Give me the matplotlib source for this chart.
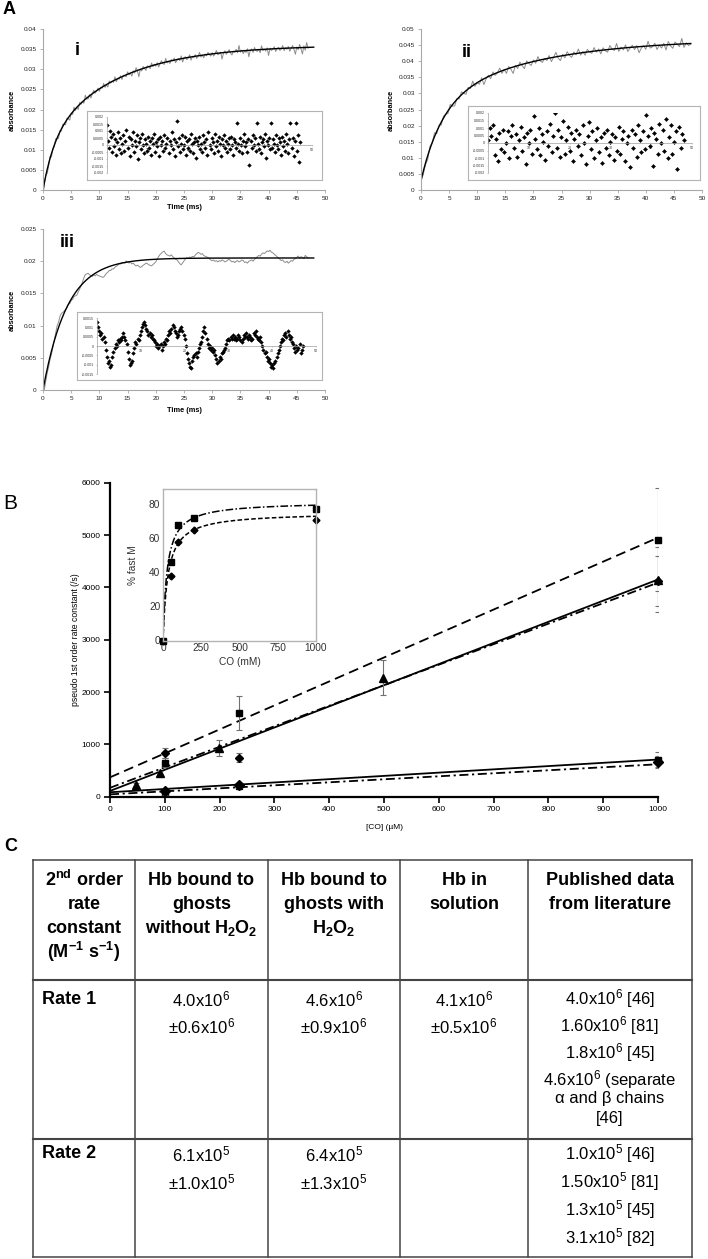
import numpy as np
import matplotlib
matplotlib.use('Agg')
import matplotlib.pyplot as plt
from matplotlib.ticker import FuncFormatter, MultipleLocator

plt.rcParams['font.family'] = ['Liberation Sans', 'DejaVu Sans']
plt.rcParams['mathtext.fontset'] = 'custom'
plt.rcParams['mathtext.rm'] = 'Liberation Sans'
plt.rcParams['mathtext.bf'] = 'Liberation Sans:bold'
plt.rcParams['mathtext.it'] = 'Liberation Sans:italic'

W, H = 708, 1259

# ---------------- panel A data ----------------
# fitted kinetic curves: offset, amplitudes, rates (/ms)
off_i, amp_i, rate_i = 0.0, [0.012, 0.024], [0.5, 0.08]
off_ii, amp_ii, rate_ii = 0.003, [0.023, 0.021], [0.27, 0.055]
off_iii, amp_iii, rate_iii = 0.0, [0.0205], [0.233]

# residuals (fit - data), units of 1e-4 absorbance
res_i = [14, 3, -2, 10, 6, -5, 8, -1, 4, -7, 2, 9, -3, 5, -6, 1, 7, -4, 3, 11,
         -2, 6, -8, 4, 0, 9, -5, 3, -1, 7, -10, 2, 5, -3, 8, 0, -6, 4, 1, -4,
         6, -2, 3, -7, 5, 1, 8, -5, 2, -1, 4, -8, 6, 0, 3, -4, 7, -2, 1, 5,
         -6, 3, 0, 9, -3, 4, -8, 2, 17, -1, 5, -5, 1, 7, -3, 0, 6, -7, 3, -2,
         4, -4, 8, 1, -6, 2, 5, -9, 3, 0, 6, -3, 1, -5, 7, 2, -2, 4, -7, 9,
         0, -3, 5, 2, -6, 8, -1, 3, -4, 6, 1, -8, 4, 0, 7, -2, 3, -5, 1, 5,
         -3, 6, 0, -7, 4, 2, -2, 16, 1, -4, 5, 0, -6, 3, 8, -1, 2, -5, 4, -14,
         3, -2, 7, 0, 5, -4, 16, 1, -3, 6, -6, 2, 4, -1, 8, -9, 3, 0, 5, -3,
         16, -2, 4, 1, -5, 7, 0, -3, 5, 2, -7, 6, -1, 3, -4, 8, 1, -6, 4, 16,
         -2, 5, -8, 3, 16, -4, 7, -12, 2]
res_ii = [2, 10, 5, 12, -8, 3, -12, 7, -4, 9,
          -6, 0, 8, -10, 5, 12, -3, 6, -9, 2,
          11, -5, 4, -14, 7, 0, 9, -7, 18, 3,
          -4, 10, -8, 6, 1, -11, 8, -2, 13, -6,
          5, 20, -3, 9, -9, 4, 15, -7, 2, 11,
          -5, 7, -12, 3, 9, -2, 6, -8, 12, 0,
          -14, 5, 14, -4, 8, -10, 2, 10, -6, 4,
          -13, 7, -3, 9, -8, 1, 6, -11, 4, -5,
          11, -7, 3, 8, -12, 0, 5, -16, 9, -3,
          6, -9, 12, 2, -6, 8, -4, 19, 5, -2,
          10, -15, 7, 3, -7, 13, 0, 9, -5, 16,
          -10, 4, 12, -7, 1, 8, -17, 11, -3, 6,
          2]
res_iii = [13, 10, 8, 6, 7, 4, 5, 2, -2, -6, -9, -8, -11, -10, -6, -3,
           -1, 1, 0, 3, 2, 4, 3, 5, 7, 5, 3, 1, -3, -7, -10, -9,
           -8, -4, -1, 2, 1, 4, 3, 6, 8, 10, 12, 13, 11, 9, 8, 6,
           7, 5, 6, 4, 3, 2, 0, 1, -1, 0, 1, -2, 0, 2, 1, 4,
           3, 6, 8, 7, 9, 11, 10, 8, 7, 5, 6, 8, 9, 10, 8, 6,
           4, 0, -4, -7, -9, -11, -12, -8, -6, -5, -4, -6, -3, -1, 1, 2,
           5, 8, 10, 7, 4, 1, -1, 0, -2, -1, -3, -2, -5, -7, -9, -8,
           -6, -7, -4, -3, -2, -1, 1, 3, 4, 3, 5, 4, 6, 4, 5, 3,
           4, 6, 5, 3, 2, 4, 6, 5, 7, 5, 4, 6, 5, 3, 4, 7,
           6, 8, 5, 4, 3, 5, 2, 0, -2, -4, -3, -6, -8, -7, -9, -11,
           -10, -12, -9, -8, -6, -4, -2, 0, 2, 4, 3, 6, 7, 5, 8, 6,
           4, 5, 2, 1, -1, -3, 0, -2, -1, 1, -4, -2, 0]
dt_i, dt_ii, dt_iii = 0.25, 0.4, 0.25

# ---------------- panel B data ----------------
co_sq = [100, 235, 1000]
fast_sq = [650, 1600, 4910]
fast_sq_err = [80, 320, 980]
fast_di = [835, 745, 4120]
fast_di_err = [100, 90, 470]
co_tri = [47, 91, 199, 499, 1000]
fast_tri = [230, 445, 930, 2270, 4150]
fast_tri_err = [40, 50, 150, 335, 620]
slow_sq = [75, 200, 710]
slow_sq_err = [40, 30, 140]
slow_di = [100, 215, 660]
slow_di_err = [60, 40, 120]
# linear fits (intercept, slope)
fit_fast_sq = (370, 4.58)
fit_fast_tri = (110, 4.04)
fit_fast_di = (170, 3.92)
fit_slow_sq = (85, 0.625)
fit_slow_di = (45, 0.575)

# inset: % fast M vs CO
co_in = [0, 50, 100, 200, 1000]
fastM_sq = [0, 46, 68, 72, 77]
fastM_di = [0, 38, 58, 65, 71]
hyp_sq = (81.6, 26.7)   # Vmax, K
hyp_di = (75.3, 31.9)

# ---------------- panel C table ----------------
hdr = [[r"2$^{\mathbf{nd}}$ order", "rate", "constant", r"(M$^{\mathbf{-1}}$ s$^{\mathbf{-1}}$)"],
       ["Hb bound to", "ghosts", r"without H$_{\mathbf{2}}$O$_{\mathbf{2}}$"],
       ["Hb bound to", "ghosts with", r"H$_{\mathbf{2}}$O$_{\mathbf{2}}$"],
       ["Hb in", "solution"],
       ["Published data", "from literature"]]
rate1 = [[r"4.0x10$^6$", r"±0.6x10$^6$"],
         [r"4.6x10$^6$", r"±0.9x10$^6$"],
         [r"4.1x10$^6$", r"±0.5x10$^6$"],
         [r"4.0x10$^6$ [46]", r"1.60x10$^6$ [81]", r"1.8x10$^6$ [45]",
          r"4.6x10$^6$ (separate", "α and β chains", "[46]"]]
rate2 = [[r"6.1x10$^5$", r"±1.0x10$^5$"],
         [r"6.4x10$^5$", r"±1.3x10$^5$"],
         [],
         [r"1.0x10$^5$ [46]", r"1.50x10$^5$ [81]", r"1.3x10$^5$ [45]", r"3.1x10$^5$ [82]"]]


def px_rect(l, t, r, b):
    return [l / W, 1 - b / H, (r - l) / W, (b - t) / H]


def kinetic(t, off, amps, rates):
    y = np.full_like(t, off, dtype=float)
    for a, k in zip(amps, rates):
        y += a * (1 - np.exp(-k * t))
    return y


fig = plt.figure(figsize=(W / 100, H / 100), dpi=100)
gfmt = FuncFormatter(lambda v, p: '%g' % round(v, 6))


def panel_a(rect, ymax, res, dt, off, amps, rates, outer, inner, rlim, ms):
    ax = fig.add_axes(px_rect(*rect))
    r = np.array(res) * 1e-4
    t = np.arange(len(r)) * dt
    tf = np.linspace(0, 48, 400)
    ax.plot(t, kinetic(t, off, amps, rates) - r, color='#8c8c8c', lw=0.7)
    ax.plot(tf, kinetic(tf, off, amps, rates), color='black', lw=1.0)
    ax.set_xlim(0, 50)
    ax.set_ylim(0, ymax)
    for s in ['top', 'right']:
        ax.spines[s].set_visible(False)
    for s in ['left', 'bottom']:
        ax.spines[s].set_color('#a8a8a8')
        ax.spines[s].set_linewidth(0.8)
    ax.xaxis.set_major_locator(MultipleLocator(5))
    ax.yaxis.set_major_locator(MultipleLocator(0.005))
    ax.yaxis.set_major_formatter(gfmt)
    ax.tick_params(length=2.5, width=0.6, color='#a8a8a8', labelsize=4.6,
                   pad=2, labelcolor='#222222')

    ob = fig.add_axes(px_rect(*outer))
    ob.set_xticks([])
    ob.set_yticks([])
    for s in ob.spines.values():
        s.set_color('#b4b4b4')
        s.set_linewidth(0.8)
    ai = fig.add_axes(px_rect(*inner))
    ai.patch.set_visible(False)
    ai.plot(t, r, 'D', ms=ms, color='black', mew=0.3)
    ai.set_xlim(0, 50)
    ai.set_ylim(-rlim, rlim)
    ai.spines['top'].set_visible(False)
    ai.spines['right'].set_visible(False)
    ai.spines['bottom'].set_position(('data', 0))
    for s in ['left', 'bottom']:
        ai.spines[s].set_color('#a0a0a0')
        ai.spines[s].set_linewidth(0.5)
    ai.yaxis.set_major_locator(MultipleLocator(0.0005))
    ai.yaxis.set_major_formatter(gfmt)
    ai.set_xticks([0, 10, 20, 30, 40, 50])
    ai.set_xticklabels(['', '10', '20', '30', '40', '50'])
    ai.tick_params(length=1, width=0.4, color='#a0a0a0', labelsize=2.6, pad=1,
                   labelcolor='#333333')
    return ax


panel_a((43, 29, 325, 190), 0.04, res_i, dt_i, off_i, amp_i, rate_i,
        (87, 111, 322, 180), (107, 117, 312, 173), 0.002, 1.9)
panel_a((421, 29, 702, 190), 0.05, res_ii, dt_ii, off_ii, amp_ii, rate_ii,
        (468, 106, 700, 180), (488, 113, 692, 173), 0.002, 2.1)
panel_a((43, 229, 325, 390), 0.025, res_iii, dt_iii, off_iii, amp_iii, rate_iii,
        (77, 312, 322, 380), (97, 318, 316, 374), 0.0015, 1.9)

# ---------------- panel B ----------------
axb = fig.add_axes(px_rect(110, 482.7, 658, 796.7))
xs = np.array([0, 1000])
dash = (0, (5.5, 3))
dashdot = (0, (5, 2, 1.2, 2))
for (b0, m), ls in [(fit_fast_sq, dash), (fit_fast_tri, '-'), (fit_fast_di, dashdot),
                    (fit_slow_sq, '-'), (fit_slow_di, dashdot)]:
    axb.plot(xs, b0 + m * xs, color='black', lw=1.3, ls=ls)
ebkw = dict(fmt='none', ecolor='#707070', elinewidth=0.8, capsize=2.5, capthick=0.8)
for x, y, e, mk, ms in [(co_sq, fast_sq, fast_sq_err, 's', 5),
                        (co_sq, fast_di, fast_di_err, 'D', 4.5),
                        (co_tri, fast_tri, fast_tri_err, '^', 5.5),
                        (co_sq, slow_sq, slow_sq_err, 's', 5),
                        (co_sq, slow_di, slow_di_err, 'D', 5.5)]:
    axb.errorbar(x, y, yerr=e, **ebkw)
    axb.plot(x, y, mk, ms=ms, color='black', clip_on=False)
axb.set_xlim(0, 1000)
axb.set_ylim(0, 6000)
for s in ['top', 'right']:
    axb.spines[s].set_visible(False)
for s in ['left', 'bottom']:
    axb.spines[s].set_linewidth(1.6)
axb.xaxis.set_major_locator(MultipleLocator(100))
axb.yaxis.set_major_locator(MultipleLocator(1000))
axb.tick_params(length=4, width=1.2, labelsize=6, pad=3)

axi = fig.add_axes(px_rect(163, 489, 316, 640.5))
xc = np.linspace(0, 1000, 500)
axi.plot(xc, hyp_sq[0] * xc / (hyp_sq[1] + xc), color='black', lw=1.1,
         ls=(0, (5, 1.5, 1, 1.5)))
axi.plot(xc, hyp_di[0] * xc / (hyp_di[1] + xc), color='black', lw=1.1,
         ls=(0, (3, 1.5)))
axi.plot(co_in, fastM_sq, 's', ms=4, color='black', clip_on=False)
axi.plot(co_in, fastM_di, 'D', ms=3.5, color='black', clip_on=False)
axi.set_xlim(0, 1000)
axi.set_ylim(0, 89)
axi.set_xticks([0, 250, 500, 750, 1000])
axi.set_yticks([0, 20, 40, 60, 80])
for s in axi.spines.values():
    s.set_color('#b4b4b4')
    s.set_linewidth(1.0)
axi.tick_params(length=0, labelsize=7.3, labelcolor='#333333', pad=2)
axi.set_xlabel('CO (mM)', fontsize=7.3, color='#333333', labelpad=3)
axi.set_ylabel('% fast M', fontsize=7.3, color='#333333', labelpad=8)

# ---------------- overlay: labels and table ----------------
ax0 = fig.add_axes([0, 0, 1, 1])
ax0.set_xlim(0, W)
ax0.set_ylim(H, 0)
ax0.axis('off')

ax0.text(3, 9, 'A', fontsize=13, fontweight='bold', va='center')
ax0.text(3, 503, 'B', fontsize=15, va='center')
ax0.text(4, 846, 'C', fontsize=13, fontweight='bold', va='center')

for x0, y0, num in [(75, 50, 'i'), (462, 52, 'ii'), (60, 242, 'iii')]:
    ax0.text(x0, y0, num, fontsize=13, fontweight='bold', va='center')
for x0, y0 in [(12, 110), (391, 110), (12, 310)]:
    ax0.text(x0, y0, 'absorbance', fontsize=5.3, fontweight='bold', rotation=90,
             ha='center', va='center')
for x0, y0 in [(184, 207), (184, 410)]:
    ax0.text(x0, y0, 'Time (ms)', fontsize=5.3, fontweight='bold', ha='center', va='center')

ax0.text(76, 640, 'pseudo 1st order rate constant (/s)', fontsize=6.2, rotation=90,
         ha='center', va='center')
ax0.text(384, 827, '[CO] (µM)', fontsize=6, ha='center', va='center')

cols = [33, 135, 268, 400, 528, 692]
row_lines = [860, 980, 1139, 1257]
for i, y in enumerate(row_lines):
    ax0.plot([cols[0], cols[-1]], [y, y], color='#444444', lw=1.5 if i in (1, 2) else 1.1)
for x in cols:
    ax0.plot([x, x], [row_lines[0], row_lines[-1]], color='#444444', lw=1.1)
centers = [(a + b) / 2 for a, b in zip(cols[:-1], cols[1:])]

hdr_y = [880, 904, 928, 952]
r1_y = [999, 1026, 1053, 1080, 1099, 1118]
r2_y = [1154, 1182, 1210, 1238]
for c, lines in zip(centers, hdr):
    for y, s in zip(hdr_y, lines):
        ax0.text(c, y, s, fontsize=13, fontweight='bold', ha='center', va='center')
ax0.text(42, r1_y[0], 'Rate 1', fontsize=13, fontweight='bold', va='center')
ax0.text(42, r2_y[0], 'Rate 2', fontsize=13, fontweight='bold', va='center')
for c, lines in zip(centers[1:], rate1):
    for y, s in zip(r1_y, lines):
        ax0.text(c, y, s, fontsize=12, ha='center', va='center')
for c, lines in zip(centers[1:], rate2):
    for y, s in zip(r2_y, lines):
        ax0.text(c, y, s, fontsize=12, ha='center', va='center')

fig.savefig('out.png', dpi=100)
